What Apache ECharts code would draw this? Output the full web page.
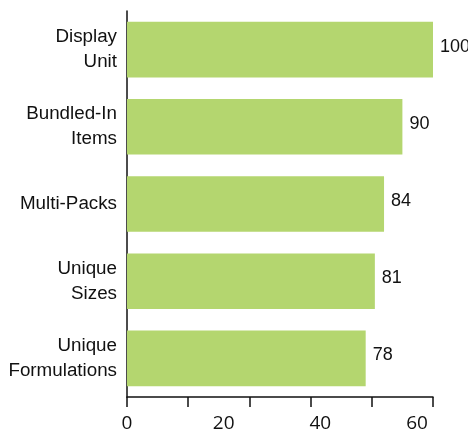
<!DOCTYPE html>
<html>
<head>
<meta charset="utf-8">
<script src="https://cdn.jsdelivr.net/npm/echarts@6/dist/echarts.min.js"></script>
<style>
  html, body { margin: 0; padding: 0; background: #fff; }
  #chart { width: 468px; height: 437px; }
</style>
</head>
<body>
<div id="chart"></div>
<script>
// Categories, top to bottom
const categories = ['Display\nUnit', 'Bundled-In\nItems', 'Multi-Packs', 'Unique\nSizes', 'Unique\nFormulations'];
// Index values per category
const values = [100, 90, 84, 81, 78];
// Printed labels along the bottom axis
const tickLabels = ['0', '20', '40', '60'];

const chart = echarts.init(document.getElementById('chart'), null, { renderer: 'canvas' });

const BAR = '#b4d66f';
const INK = '#111';

chart.setOption({
  animation: false,
  backgroundColor: '#fff',
  grid: { left: 127, right: 35, top: 11, bottom: 40, containLabel: false },
  xAxis: [
    {
      type: 'value',
      min: 0,
      max: 100,
      interval: 20,
      position: 'bottom',
      axisLine: { show: true, lineStyle: { color: INK, width: 1.5 } },
      axisTick: { show: true, inside: false, length: 10, lineStyle: { color: INK, width: 1.5 } },
      axisLabel: { show: false },
      splitLine: { show: false }
    },
    {
      type: 'value',
      min: 0,
      max: 63.3,
      interval: 20,
      position: 'bottom',
      axisLine: { show: false },
      axisTick: { show: false },
      splitLine: { show: false },
      axisLabel: {
        show: true,
        margin: 17,
        color: INK,
        fontFamily: 'Open Sans',
        fontSize: 19,
        showMaxLabel: false,
        formatter: function (v) {
          const i = Math.round(v / 20);
          return tickLabels[i] !== undefined ? tickLabels[i] : '';
        }
      }
    }
  ],
  yAxis: {
    type: 'category',
    data: categories,
    inverse: true,
    axisLine: { show: true, lineStyle: { color: INK, width: 1.5 } },
    axisTick: { show: false },
    axisLabel: {
      color: INK,
      fontFamily: 'Liberation Sans',
      fontSize: 18.8,
      lineHeight: 25,
      margin: 10,
      align: 'right'
    }
  },
  series: [
    {
      type: 'bar',
      xAxisIndex: 0,
      data: values,
      barCategoryGap: '28%',
      itemStyle: { color: BAR },
      label: {
        show: true,
        position: 'right',
        distance: 7,
        color: INK,
        fontFamily: 'Liberation Sans',
        fontSize: 18,
        offset: [0, -3]
      }
    }
  ]
});
</script>
</body>
</html>
